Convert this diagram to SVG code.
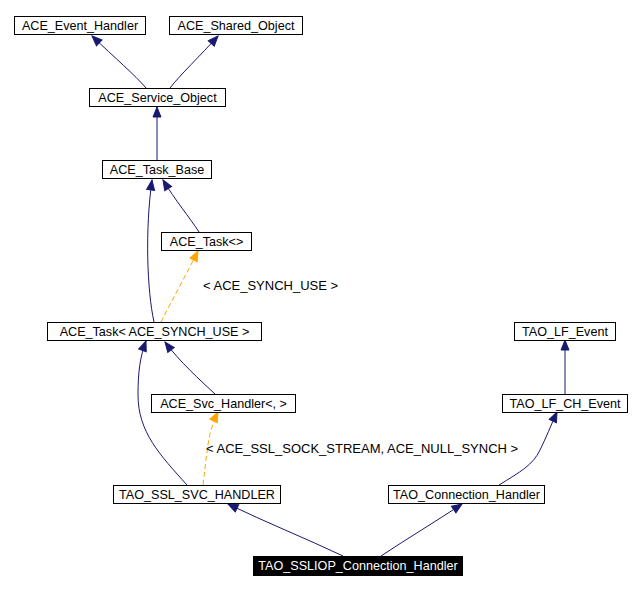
<svg xmlns="http://www.w3.org/2000/svg" width="641" height="590" viewBox="0 0 641 590">
<style>
.n rect{fill:#fff;stroke:#000;stroke-width:1}
.n text{font-family:"Liberation Sans",Arial,sans-serif;font-size:12.6px;fill:#000;text-anchor:middle}
.e{fill:none;stroke:#191970;stroke-width:1}
.d{fill:none;stroke:#ffa500;stroke-width:1;stroke-dasharray:5,3}
.lbl{font-family:"Liberation Sans",Arial,sans-serif;font-size:13px;fill:#000}
</style>
<defs>
<marker id="ab" markerUnits="userSpaceOnUse" markerWidth="11" markerHeight="9" refX="10" refY="4" orient="auto" overflow="visible"><path d="M0,0 L10,4 L0,8 z" fill="#191970" stroke="#191970"/></marker>
<marker id="ao" markerUnits="userSpaceOnUse" markerWidth="11" markerHeight="9" refX="10" refY="4" orient="auto" overflow="visible"><path d="M0,0 L10,4 L0,8 z" fill="#ffa500" stroke="#ffa500"/></marker>
</defs>
<rect width="641" height="590" fill="#fff"/>
<g id="edges">
<path class="e" d="M146,88 C135,75 115,58 92,36" marker-end="url(#ab)"/>
<path class="e" d="M170,88 C180,75 200,56 218,36" marker-end="url(#ab)"/>
<path class="e" d="M157,160 L157,107" marker-end="url(#ab)"/>
<path class="e" d="M199,232 C190,218 175,200 163,180" marker-end="url(#ab)"/>
<path class="e" d="M154,322 C147,290 145,230 152,180" marker-end="url(#ab)"/>
<path class="d" d="M161,322 C172,300 186,275 198,251" marker-end="url(#ao)"/>
<path class="e" d="M215,394 C200,380 180,362 165,342" marker-end="url(#ab)"/>
<path class="e" d="M187,485 C160,455 138,432 138,395 C138,372 140,357 146,341" marker-end="url(#ab)"/>
<path class="d" d="M203,485 C206,460 208,440 211,430 C213,424 215,418 218,412" marker-end="url(#ao)"/>
<path class="e" d="M343,556 C305,538 265,522 228,504" marker-end="url(#ab)"/>
<path class="e" d="M381,556 C408,538 435,522 462,504" marker-end="url(#ab)"/>
<path class="e" d="M499,485 C520,472 533,465 540,450 C546,438 551,425 557,412" marker-end="url(#ab)"/>
<path class="e" d="M565,394 L565,340" marker-end="url(#ab)"/>
</g>
<text class="lbl" x="203" y="290">&lt; ACE_SYNCH_USE &gt;</text>
<text class="lbl" x="206" y="453">&lt; ACE_SSL_SOCK_STREAM, ACE_NULL_SYNCH &gt;</text>
<g id="ACE_Event_Handler" class="n"><rect x="14.5" y="16.5" width="131" height="18"/><text x="80" y="30">ACE_Event_Handler</text></g>
<g id="ACE_Shared_Object" class="n"><rect x="169.5" y="16.5" width="133" height="18"/><text x="236" y="30">ACE_Shared_Object</text></g>
<g id="ACE_Service_Object" class="n"><rect x="89.5" y="88.5" width="136" height="18"/><text x="157.5" y="102">ACE_Service_Object</text></g>
<g id="ACE_Task_Base" class="n"><rect x="102.5" y="160.5" width="109" height="18"/><text x="157" y="174">ACE_Task_Base</text></g>
<g id="ACE_Task_T" class="n"><rect x="161.5" y="232.5" width="90" height="18"/><text x="206.5" y="246">ACE_Task&lt;&gt;</text></g>
<g id="ACE_Task_SYNCH" class="n"><rect x="47.5" y="322.5" width="214" height="18"/><text x="154.5" y="336">ACE_Task&lt; ACE_SYNCH_USE &gt;</text></g>
<g id="ACE_Svc_Handler" class="n"><rect x="151.5" y="394.5" width="144" height="18"/><text x="223.5" y="408">ACE_Svc_Handler&lt;, &gt;</text></g>
<g id="TAO_LF_Event" class="n"><rect x="514.5" y="322.5" width="101" height="18"/><text x="565" y="336">TAO_LF_Event</text></g>
<g id="TAO_LF_CH_Event" class="n"><rect x="502.5" y="394.5" width="125" height="18"/><text x="565" y="408">TAO_LF_CH_Event</text></g>
<g id="TAO_SSL_SVC_HANDLER" class="n"><rect x="113.5" y="485.5" width="167" height="18"/><text x="197" y="499">TAO_SSL_SVC_HANDLER</text></g>
<g id="TAO_Connection_Handler" class="n"><rect x="388.5" y="485.5" width="156" height="18"/><text x="466.5" y="499">TAO_Connection_Handler</text></g>
<g id="TAO_SSLIOP_Connection_Handler"><rect x="253" y="556" width="210" height="20" fill="#000"/><text x="358" y="570" font-family="'Liberation Sans',Arial,sans-serif" font-size="12.6px" fill="#fff" text-anchor="middle">TAO_SSLIOP_Connection_Handler</text></g>
</svg>
